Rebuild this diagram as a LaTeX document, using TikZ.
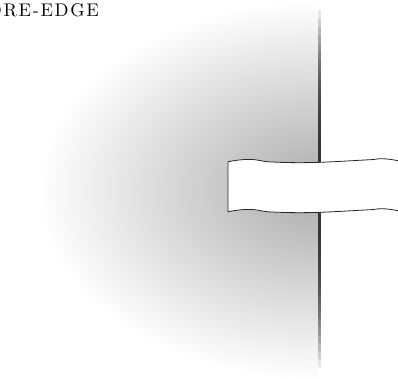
\documentclass[tikz,border=0pt]{standalone}
\usepackage{fontspec}
\usepackage{tikz}
\usetikzlibrary{positioning}
\newfontfamily\edgefont{lmroman10-regular.otf}[LetterSpace=9]
\definecolor{spine}{HTML}{333333}
\definecolor{shadow}{HTML}{ABABAB}

\begin{document}
\begin{tikzpicture}[
  x=1pt, y=1pt,
  caption/.style={inner sep=0pt, font=\edgefont\fontsize{18.3}{22}\selectfont},
  tab/.style={fill=white, draw=black!85, line width=0.8pt, line join=round}
]
  \useasboundingbox (0,0) rectangle (398,378);

  % Shadow of the page block
  \begin{scope}
    \clip (0,0) rectangle (319.5,378);
    \shade[inner color=shadow, outer color=white] (319.5,188) ellipse (282 and 190);
  \end{scope}

  % Edge of the pages, fading at both ends
  \foreach \i in {0,...,45} {
    \pgfmathsetmacro{\tone}{max(0,100-(abs(\i-22.5)/22.5)^3*100)}
    \fill[spine!\tone!white] (318.4,3+8.1*\i) rectangle (320.7,11.3+8.1*\i);
  }

  % Ribbon
  \filldraw[tab] (228,216.3) to[out=10,in=180] (250,218.6) to[out=0,in=175] (268,216.2)
    to[out=-3,in=183] (372,218.4) to[out=3,in=180] (380,219.3) to[out=0,in=170] (405,216)
    -- (405,166) to[out=170,in=0] (380,169.3) to[out=180,in=3] (372,168.4)
    to[out=183,in=-3] (268,166.2) to[out=175,in=0] (250,168.6) to[out=180,in=10] (228,166.3)
    -- cycle;

  % Caption
  \node[caption, anchor=base east] (fore) at (99,361.3) {FORE-EDGE};
\end{tikzpicture}
\end{document}
